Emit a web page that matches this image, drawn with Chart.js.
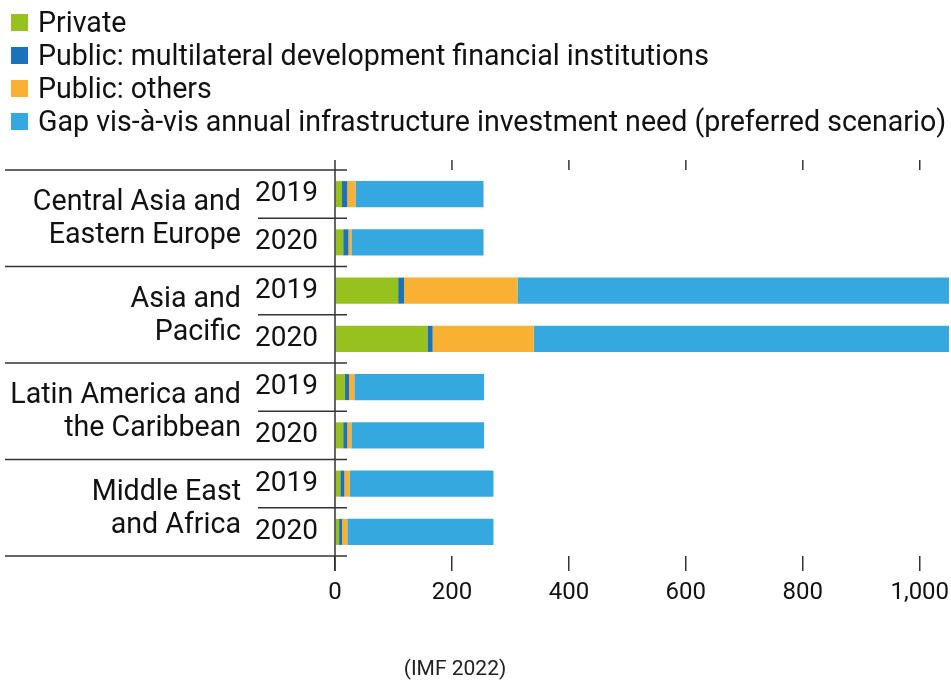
<!DOCTYPE html>
<html>
<head>
<meta charset="utf-8">
<script src="https://cdn.jsdelivr.net/npm/chart.js@4/dist/chart.umd.min.js"></script>
<style>
  html, body { margin: 0; padding: 0; background: #fff; }
  #wrap { position: relative; width: 951px; height: 680px; }
  #legend { position: absolute; left: 11px; top: 6px; font-family: Roboto, sans-serif; font-size: 28.6px; color: #111; }
  #legend .row { height: 33px; line-height: 33px; display: flex; align-items: center; white-space: nowrap; }
  #legend .box { width: 17px; height: 17px; margin-right: 10px; flex: none; }
</style>
</head>
<body>
<div id="wrap">
  <canvas id="chart" width="951" height="680"></canvas>
  <div id="legend"></div>
</div>
<script>
// Regiones (dos líneas cada una) y años por región
const regions = [
  ['Central Asia and', 'Eastern Europe'],
  ['Asia and', 'Pacific'],
  ['Latin America and', 'the Caribbean'],
  ['Middle East', 'and Africa']
];
const years = ['2019', '2020'];
const rowLabels = regions.flatMap(() => years);

// Series (miles de millones USD)
const seriesNames = [
  'Private',
  'Public: multilateral development financial institutions',
  'Public: others',
  'Gap vis-à-vis annual infrastructure investment need (preferred scenario)'
];
const privateVals = [12, 14, 108, 158, 17, 14, 9, 7];
const mdfiVals = [9, 9, 10, 9, 7, 7, 7, 5];
const otherVals = [14, 5, 194, 173, 9, 7, 9, 9];
const gapVals = [219, 226, 740, 712, 222, 227, 246, 250];
const xTicks = [0, 200, 400, 600, 800, 1000];

const COLORS = ['#96c11f', '#1d71b8', '#f8b133', '#35a8e0'];
const FONT = 'Roboto, sans-serif';
const INK = '#222';
const LINE = '#333';

// Leyenda en HTML, una entrada por fila
const legendEl = document.getElementById('legend');
seriesNames.forEach((name, i) => {
  const row = document.createElement('div');
  row.className = 'row';
  row.innerHTML = `<span class="box" style="background:${COLORS[i]}"></span><span>${name}</span>`;
  legendEl.appendChild(row);
});

// Dibuja separadores, eje vertical, marcas superiores, nombres de región y fuente
const decorations = {
  id: 'decorations',
  afterDatasetsDraw(chart) {
    const { ctx, chartArea, scales } = chart;
    const x = scales.x, y = scales.y;
    const step = (y.getPixelForValue(1) - y.getPixelForValue(0));
    const x0 = x.getPixelForValue(0);
    ctx.save();
    ctx.strokeStyle = LINE;
    ctx.lineWidth = 1.5;

    // líneas largas entre grupos y cortas entre años
    for (let g = 0; g <= regions.length; g++) {
      const yy = y.getPixelForValue(g * 2) - step / 2;
      ctx.beginPath();
      ctx.moveTo(5, yy);
      ctx.lineTo(x0 + 12, yy);
      ctx.stroke();
      if (g < regions.length) {
        const ym = yy + step;
        ctx.beginPath();
        ctx.moveTo(258, ym);
        ctx.lineTo(x0 + 12, ym);
        ctx.stroke();
      }
    }

    // eje vertical en 0
    ctx.beginPath();
    ctx.moveTo(x0, chartArea.top - 10);
    ctx.lineTo(x0, chartArea.bottom + 15);
    ctx.stroke();

    // marcas superiores
    xTicks.slice(1).forEach(v => {
      const px = x.getPixelForValue(v);
      ctx.beginPath();
      ctx.moveTo(px, chartArea.top - 10);
      ctx.lineTo(px, chartArea.top);
      ctx.stroke();
    });

    // nombres de región
    ctx.fillStyle = '#111';
    ctx.font = '28.6px ' + FONT;
    ctx.textAlign = 'right';
    ctx.textBaseline = 'middle';
    regions.forEach((lines, g) => {
      const yc = y.getPixelForValue(g * 2) + step / 2;
      ctx.fillText(lines[0], 241, yc - 15);
      ctx.fillText(lines[1], 241, yc + 18);
    });

    // fuente
    ctx.fillStyle = INK;
    ctx.font = '21px ' + FONT;
    ctx.textAlign = 'center';
    ctx.fillText('(IMF 2022)', 455, 670);
    ctx.restore();
  }
};

const valueSets = [privateVals, mdfiVals, otherVals, gapVals];

new Chart(document.getElementById('chart'), {
  type: 'bar',
  data: {
    labels: rowLabels,
    datasets: seriesNames.map((name, i) => ({
      label: name,
      data: valueSets[i],
      backgroundColor: COLORS[i],
      borderWidth: 0,
      barPercentage: 0.54,
      categoryPercentage: 1
    }))
  },
  options: {
    indexAxis: 'y',
    responsive: false,
    animation: false,
    layout: { padding: { top: 170, right: 2, bottom: 64, left: 0 } },
    plugins: {
      legend: { display: false },
      tooltip: { enabled: false }
    },
    scales: {
      x: {
        stacked: true,
        min: 0,
        max: 1050,
        afterBuildTicks(scale) {
          scale.ticks = xTicks.map(v => ({ value: v }));
        },
        afterFit(scale) {
          scale.height = 60;
          scale.paddingLeft = 0;
          scale.paddingRight = 0;
        },
        border: { display: false },
        grid: {
          drawOnChartArea: false,
          drawTicks: true,
          tickLength: 15,
          color: LINE,
          lineWidth: 1.5
        },
        ticks: {
          color: '#111',
          padding: 8,
          maxRotation: 0,
          font: { family: FONT, size: 24 },
          callback: v => v.toLocaleString('en-US')
        }
      },
      y: {
        stacked: true,
        afterFit(scale) { scale.width = 335; },
        border: { display: false },
        grid: { display: false, drawTicks: false },
        ticks: {
          color: '#111',
          padding: 17,
          font: { family: FONT, size: 28 }
        }
      }
    }
  },
  plugins: [decorations]
});
</script>
</body>
</html>
